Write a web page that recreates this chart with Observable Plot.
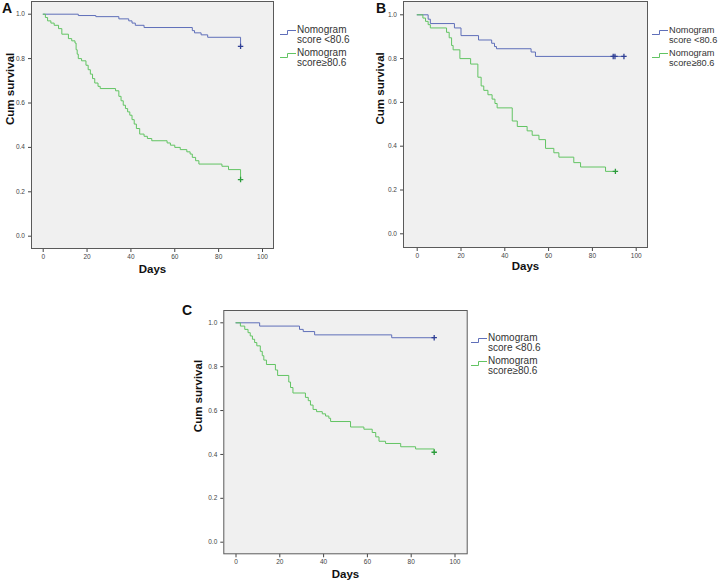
<!DOCTYPE html>
<html>
<head>
<meta charset="utf-8">
<script src="https://cdn.jsdelivr.net/npm/d3@7"></script>
<script src="https://cdn.jsdelivr.net/npm/@observablehq/plot@0.6"></script>
<style>
  html, body { margin: 0; padding: 0; background: #fff; }
  #wrap { position: relative; width: 720px; height: 585px; overflow: hidden; font-family: "Liberation Sans", Arial, sans-serif; }
  .pan { position: absolute; }
  .letter { position: absolute; font-weight: bold; font-size: 14px; line-height: 14px; color: #111; }
  .legend { position: absolute; font-size: 10px; line-height: 10px; color: #333; }
  .entry { position: relative; padding-left: 17px; margin-bottom: 3px; white-space: nowrap; }
  .entry svg { position: absolute; left: 0; top: 5px; }
</style>
</head>
<body>
<div id="wrap"></div>
<script>
// ---- tick labels / categories ----
const dayTicks = [0, 20, 40, 60, 80, 100];
const survTicks = [0, 0.2, 0.4, 0.6, 0.8, 1.0];
const groupLabels = [["Nomogram", "score <80.6"], ["Nomogram", "score\u226580.6"]];
const panelLetters = ["A", "B", "C"];

// ---- Panel A ----
const aLowT = [0, 16, 24, 34.5, 39, 40.5, 42, 46, 68, 69, 72, 75, 90];
const aLowS = [1, 0.994, 0.989, 0.979, 0.97, 0.96, 0.95, 0.94, 0.926, 0.916, 0.907, 0.896, 0.855];
const aHighT = [0, 1, 2, 3.5, 5, 7, 8.5, 11.5, 13, 14.5, 15, 15.5, 16, 17.5, 19.5, 20.5, 21.5, 22.5, 23.5, 25, 26, 33, 34.5, 35.5, 36.5, 37.5, 38.5, 39.5, 40.5, 41.5, 42.5, 44, 46, 47.5, 49.5, 56.5, 58, 60, 62.5, 65.5, 67, 68, 69.5, 71, 81.5, 84.5, 90];
const aHighS = [1, 0.985, 0.97, 0.96, 0.95, 0.935, 0.91, 0.89, 0.88, 0.87, 0.84, 0.82, 0.80, 0.79, 0.77, 0.75, 0.73, 0.71, 0.69, 0.675, 0.665, 0.655, 0.63, 0.61, 0.59, 0.575, 0.56, 0.545, 0.525, 0.505, 0.485, 0.46, 0.45, 0.44, 0.43, 0.42, 0.41, 0.40, 0.39, 0.38, 0.37, 0.355, 0.34, 0.325, 0.315, 0.30, 0.255];
const aLowCensT = [90], aLowCensS = [0.855];
const aHighCensT = [90], aHighCensS = [0.255];

// ---- Panel B ----
const bLowT = [0, 5, 6, 17, 20, 28, 34, 35.3, 36.2, 52, 54, 94.4];
const bLowS = [1, 0.98, 0.96, 0.94, 0.905, 0.885, 0.87, 0.855, 0.845, 0.83, 0.81, 0.81];
const bHighT = [0, 2.6, 3.8, 5, 6, 13.4, 14.6, 15.7, 16.4, 19.5, 24.4, 27.7, 29.2, 30.4, 32.3, 34.2, 35.5, 36.5, 43.4, 45.7, 50.2, 52.5, 55.6, 58.6, 62.4, 64.7, 71.5, 74.6, 86, 90.5];
const bHighS = [1, 0.985, 0.97, 0.955, 0.94, 0.92, 0.895, 0.86, 0.84, 0.80, 0.775, 0.715, 0.675, 0.655, 0.635, 0.615, 0.595, 0.575, 0.515, 0.49, 0.47, 0.45, 0.43, 0.39, 0.37, 0.35, 0.325, 0.305, 0.285, 0.285];
const bLowCensT = [89.5, 90.3, 94.4], bLowCensS = [0.81, 0.81, 0.81];
const bHighCensT = [90.5], bHighCensS = [0.285];

// ---- Panel C ----
const cLowT = [0, 10.8, 29, 30.7, 35.9, 71.1, 90.5];
const cLowS = [1, 0.985, 0.97, 0.96, 0.945, 0.932, 0.932];
const cHighT = [0, 2, 4, 5.5, 6.5, 7.5, 8.5, 9.5, 11.1, 12, 12.7, 13.9, 18, 19, 24.1, 24.9, 26, 31.7, 33, 34, 35.2, 36.8, 39.4, 40.9, 42.4, 43.2, 52.3, 58.4, 62.2, 63.8, 65.3, 68.3, 75.2, 82, 90.5];
const cHighS = [1, 0.985, 0.97, 0.955, 0.94, 0.925, 0.91, 0.895, 0.87, 0.85, 0.83, 0.81, 0.785, 0.76, 0.73, 0.705, 0.68, 0.66, 0.645, 0.625, 0.605, 0.595, 0.585, 0.575, 0.565, 0.55, 0.525, 0.515, 0.5, 0.48, 0.46, 0.45, 0.435, 0.425, 0.41];
const cLowCensT = [90.5], cLowCensS = [0.932];
const cHighCensT = [90.5], cHighCensS = [0.41];

// ---- styling ----
const lowColor = "#5f6fb9", highColor = "#62c463";
const lowCens = "#2f3f95", highCens = "#2c9c3c";

const rows = (T, S) => T.map((t, i) => ({t, s: S[i]}));

const wrap = document.getElementById("wrap");

function panel(cfg) {
  const svg = Plot.plot({
    width: cfg.width, height: cfg.height,
    marginLeft: cfg.ml, marginRight: cfg.mr, marginTop: cfg.mt, marginBottom: cfg.mb,
    x: {domain: [0, 100], range: cfg.xr, ticks: dayTicks, tickSize: 4, tickPadding: 2, label: null},
    y: {domain: [0, 1], range: cfg.yr, ticks: survTicks, tickFormat: d3.format(".1f"), tickSize: 3, tickPadding: 3.5, label: null},
    style: {fontFamily: "'Liberation Sans', Arial, sans-serif", fontSize: "6.5px", color: "#444", background: "transparent", overflow: "visible", display: "block"},
    marks: [
      Plot.frame({fill: "#f0f0f0", stroke: "#5a5a5a", strokeWidth: 1}),
      Plot.line(rows(cfg.lowT, cfg.lowS), {x: "t", y: "s", curve: "step-after", stroke: lowColor, strokeWidth: 1}),
      Plot.line(rows(cfg.highT, cfg.highS), {x: "t", y: "s", curve: "step-after", stroke: highColor, strokeWidth: 1}),
      Plot.dot(rows(cfg.lowCT, cfg.lowCS), {x: "t", y: "s", symbol: "plus", r: 1.9, stroke: lowCens, strokeWidth: 1.3}),
      Plot.dot(rows(cfg.highCT, cfg.highCS), {x: "t", y: "s", symbol: "plus", r: 1.9, stroke: highCens, strokeWidth: 1.3}),
      Plot.text(["Days"], {frameAnchor: "bottom", dy: cfg.xlOff, fontWeight: "bold", fontSize: 11.5, fill: "#111"}),
      Plot.text(["Cum survival"], {frameAnchor: "left", dx: -cfg.ylOff, rotate: -90, fontWeight: "bold", fontSize: 11.5, fill: "#111"})
    ]
  });
  const d = document.createElement("div");
  d.className = "pan";
  d.style.left = cfg.left + "px";
  d.style.top = cfg.top + "px";
  d.appendChild(svg);
  wrap.appendChild(d);

  const L = document.createElement("div");
  L.className = "letter";
  L.style.left = cfg.letterX + "px";
  L.style.top = cfg.letterY + "px";
  L.textContent = cfg.letter;
  wrap.appendChild(L);

  const lg = document.createElement("div");
  lg.className = "legend";
  lg.style.left = cfg.legX + "px";
  lg.style.top = cfg.legY + "px";
  if (cfg.legFont) lg.style.fontSize = cfg.legFont + "px";
  [lowColor, highColor].forEach((col, i) => {
    const e = document.createElement("div");
    e.className = "entry";
    e.innerHTML = `<svg width="16" height="6"><path d="M0,4.5H7.5V0.5H16" fill="none" stroke="${col}" stroke-width="1"/></svg>` +
      groupLabels[i][0] + "<br>" + groupLabels[i][1];
    lg.appendChild(e);
  });
  wrap.appendChild(lg);
}

panel({letter: panelLetters[0], left: 0, top: 0, width: 276, height: 280, ml: 31, mr: 3, mt: 1, mb: 32,
  xr: [42.7, 262], yr: [235.7, 13.7], xlOff: 24, ylOff: 21,
  lowT: aLowT, lowS: aLowS, highT: aHighT, highS: aHighS,
  lowCT: aLowCensT, lowCS: aLowCensS, highCT: aHighCensT, highCS: aHighCensS,
  letterX: 2, letterY: 1, legX: 280, legY: 24.5});

panel({letter: panelLetters[1], left: 370, top: 0, width: 280, height: 280, ml: 33, mr: 3, mt: 1, mb: 33,
  xr: [46.7, 265.7], yr: [233.3, 14.3], xlOff: 22, ylOff: 23,
  lowT: bLowT, lowS: bLowS, highT: bHighT, highS: bHighS,
  lowCT: bLowCensT, lowCS: bLowCensS, highCT: bHighCensT, highCS: bHighCensS,
  letterX: 376, letterY: 1, legX: 652, legY: 25, legFont: 9.2});

panel({letter: panelLetters[2], left: 190, top: 290, width: 280, height: 295, ml: 33.3, mr: 3.3, mt: 20, mb: 31.7,
  xr: [45.5, 264.5], yr: [251.7, 32.3], xlOff: 24, ylOff: 25,
  lowT: cLowT, lowS: cLowS, highT: cHighT, highS: cHighS,
  lowCT: cLowCensT, lowCS: cLowCensS, highCT: cHighCensT, highCS: cHighCensS,
  letterX: 182, letterY: 303, legX: 471, legY: 333});
</script>
</body>
</html>
